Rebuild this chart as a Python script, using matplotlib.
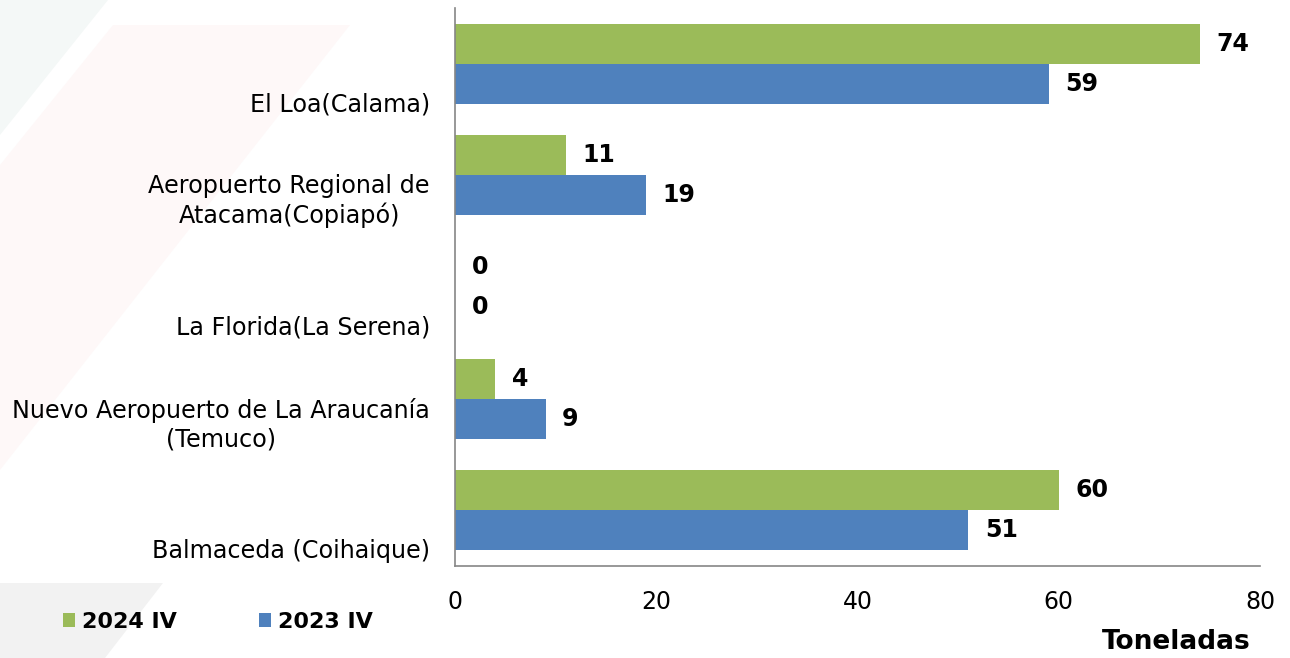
import numpy as np
import matplotlib.pyplot as plt
from matplotlib.patches import Polygon, Patch
from matplotlib.transforms import blended_transform_factory

categories = [
    "El Loa(Calama)",
    "Aeropuerto Regional de\nAtacama(Copiapó)",
    "La Florida(La Serena)",
    "Nuevo Aeropuerto de La Araucanía\n(Temuco)",
    "Balmaceda (Coihaique)",
]
values_2024 = [74, 11, 0, 4, 60]
values_2023 = [59, 19, 0, 9, 51]
series_names = ["2024 IV", "2023 IV"]
xticks = [0, 20, 40, 60, 80]

GREEN = "#9BBB59"
BLUE = "#4F81BD"
W, H = 1290, 658


def px(x, y):
    # pixel position -> figure fraction
    return (x / W, 1 - y / H)


fig = plt.figure(figsize=(W / 100, H / 100), dpi=100)

# faint decorative shapes in the background
shapes = [
    ([(0, 0), (108, 0), (0, 135)], "#F4F8F7"),
    ([(113, 25), (350, 25), (0, 470), (0, 165)], "#FEF8F8"),
    ([(0, 583), (163, 583), (105, 658), (0, 658)], "#F2F2F2"),
]
for pts, col in shapes:
    fig.patches.append(Polygon([px(*p) for p in pts], closed=True,
                               transform=fig.transFigure, facecolor=col,
                               edgecolor="none", zorder=-5))

left, right = px(455, 0)[0], px(1260, 0)[0]
bottom, top = px(0, 566)[1], px(0, 8)[1]
ax = fig.add_axes([left, bottom, right - left, top - bottom])
ax.patch.set_alpha(0)

y = np.arange(len(categories))
h = 0.358
bars_g = ax.barh(y - h / 2, values_2024, h, color=GREEN, edgecolor="none")
bars_b = ax.barh(y + h / 2, values_2023, h, color=BLUE, edgecolor="none")

ax.set_xlim(0, 80)
ax.set_ylim(len(categories) - 0.5, -0.5)
ax.set_xticks(xticks)
ax.set_xticklabels([str(t) for t in xticks], fontsize=17)
ax.tick_params(axis="x", length=0, pad=17)
ax.set_yticks([])

for s in ["top", "right"]:
    ax.spines[s].set_visible(False)
for s in ["left", "bottom"]:
    ax.spines[s].set_color("#868686")
    ax.spines[s].set_linewidth(1.2)

# data labels
for bars in (bars_g, bars_b):
    for b in bars:
        v = b.get_width()
        ax.annotate(f"{v:g}", (v, b.get_y() + b.get_height() / 2),
                    xytext=(12, 0), textcoords="offset points",
                    ha="left", va="center", fontsize=17, fontweight="bold")

# category labels, sitting low in each band like the original
tr = blended_transform_factory(ax.transAxes, ax.transData)
for i, cat in enumerate(categories):
    ax.text(-25 / 805, i + 0.47, cat, transform=tr, ha="right", va="bottom",
            multialignment="center", fontsize=17.2, linespacing=1.22)

handles = [Patch(facecolor=GREEN), Patch(facecolor=BLUE)]
fig.legend(handles, series_names, loc="center left",
           bbox_to_anchor=px(63, 622), bbox_transform=fig.transFigure,
           ncol=2, frameon=False, borderpad=0, borderaxespad=0,
           handlelength=0.55, handleheight=0.55, handletextpad=0.3,
           columnspacing=3.7, prop={"size": 16, "weight": "bold"})

fig.text(*px(1176, 642), "Toneladas", ha="center", va="center",
         fontsize=19, fontweight="bold")

fig.savefig("out.png", dpi=100)
